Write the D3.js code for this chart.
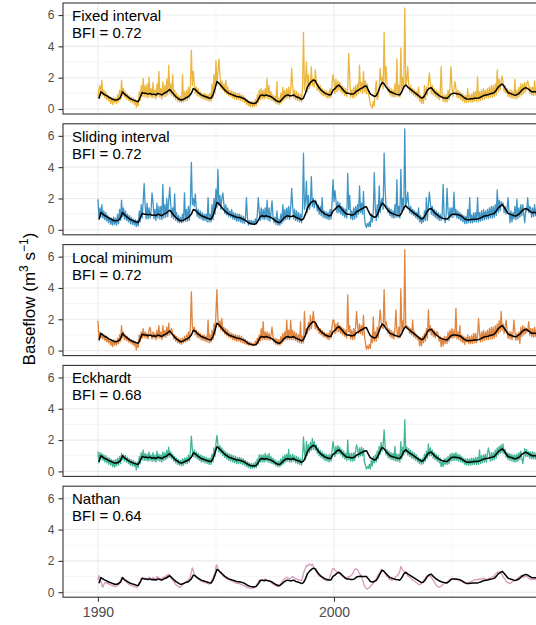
<!DOCTYPE html>
<html><head><meta charset="utf-8">
<script src="https://cdn.jsdelivr.net/npm/d3@7"></script>
<style>body{margin:0;background:#fff}svg{display:block}</style>
</head><body>
<svg id="c" width="536" height="625"></svg>
<script>
const methods = ["Fixed interval","Sliding interval","Local minimum","Eckhardt","Nathan"];
const bfiLabels = ["BFI = 0.72","BFI = 0.72","BFI = 0.72","BFI = 0.68","BFI = 0.64"];
const colors = ["#E69F00","#0072B2","#D55E00","#009E73","#CC79A7"];
const yTicks = [0,2,4,6];
const yMinor = [1,3,5];
const xTicks = [1990,2000];
const xGridMajor = [1990,2000,2010];
const xMinor = [1985,1995,2005];
const startYear = 1990;
const stepsPerYear = 24;   // coloured series: half-monthly values
const blackPerYear = 12;   // black series: monthly values

const fixedInterval = [
0.7,1.3,1.5,0.9,1.85,0.85,1.2,0.7,1.1,0.6,0.9,0.5,0.8,0.35,0.7,0.3,0.75,0.4,0.7,0.35,0.9,0.45,1.2,0.6,
1.85,0.9,1.3,0.75,1.1,0.65,0.95,0.55,0.85,0.45,0.75,0.4,0.7,0.3,0.6,0.1,0.55,0.2,1.1,0.55,1.5,0.8,1.95,0.8,
1.5,0.75,1.6,0.7,2.05,0.8,1.3,0.7,1.7,0.75,1.2,0.65,1.6,0.8,2.4,0.75,1.3,0.65,1.75,0.8,1.5,0.8,1.9,0.9,
2.8,1.0,1.6,0.85,2.2,0.75,1.2,0.6,1.0,0.5,0.85,0.45,0.8,0.4,2.2,0.45,1.1,0.5,1.2,0.55,1.4,0.65,1.6,3.75,
1.5,2.4,1.6,1.0,1.4,0.85,1.3,0.8,1.1,0.7,1.0,0.65,1.0,0.6,0.95,0.55,0.9,0.5,1.0,0.5,1.6,0.7,2.2,1.0,
3.1,1.5,2.4,3.2,2.2,1.3,1.8,1.2,1.6,1.05,1.85,0.95,1.4,0.85,1.2,0.8,1.15,0.7,1.1,0.65,1.05,0.6,1.0,0.6,
1.0,0.55,0.9,0.5,0.85,0.4,0.7,0.3,0.6,0.2,0.5,0.15,0.5,0.12,0.45,0.15,0.6,0.2,0.9,0.4,1.2,0.6,1.3,0.65,
1.2,0.65,1.3,0.7,1.95,0.65,1.5,0.6,1.1,0.55,0.9,0.45,0.8,0.35,1.75,0.3,0.7,0.3,1.0,0.4,1.4,0.55,1.2,0.65,
1.3,0.7,1.4,0.65,1.3,2.6,1.4,0.7,1.2,0.6,1.1,0.55,1.0,0.5,0.9,0.45,1.3,4.9,1.2,1.8,3.0,1.1,2.2,1.3,
1.6,2.7,1.5,1.9,1.4,2.5,1.8,1.2,1.6,1.1,1.5,0.95,1.3,0.85,1.2,0.8,1.15,0.7,1.1,0.7,1.3,0.75,1.6,2.2,
1.75,1.0,1.9,1.1,1.8,1.2,1.7,1.1,1.5,1.0,1.4,0.85,1.3,0.8,1.3,3.55,2.1,0.75,1.2,0.7,1.4,0.75,1.5,0.85,
1.6,1.0,2.8,1.1,1.7,1.0,2.4,1.1,1.8,1.0,1.6,0.9,0.7,0.3,0.2,0.05,0.5,0.2,1.2,1.8,0.6,0.8,1.4,2.6,
1.8,2.0,1.3,4.9,1.6,2.7,1.5,1.1,1.4,0.9,1.3,0.8,1.2,0.75,1.6,0.8,3.2,0.8,1.5,0.75,3.9,1.2,2.0,1.3,
6.45,1.5,1.8,2.7,1.6,1.1,1.5,1.0,1.3,0.9,1.2,0.8,1.1,0.7,1.4,0.5,0.9,0.35,0.8,0.35,1.5,0.6,1.4,0.9,
1.6,2.3,1.7,1.0,1.5,0.9,1.3,0.8,1.2,0.7,1.1,0.6,1.0,2.7,0.9,0.5,0.9,0.45,0.9,0.45,1.2,0.6,1.4,2.7,
1.4,0.8,1.3,1.75,1.3,0.75,1.2,0.7,1.1,0.6,1.0,0.5,0.9,0.4,0.85,0.4,1.3,0.45,0.9,0.45,0.95,0.45,1.1,0.5,
1.1,0.5,2.05,0.5,1.1,0.55,1.2,0.6,1.3,0.65,1.2,0.7,1.3,0.7,1.4,0.75,1.5,0.75,1.5,0.8,1.6,0.9,2.5,1.1,
1.9,1.2,1.8,2.1,1.7,1.1,1.5,1.0,1.3,0.8,1.2,0.75,1.2,0.7,1.1,0.7,1.9,0.65,1.2,0.7,1.4,0.8,1.6,0.9,
1.6,1.0,1.7,1.1,1.6,1.8,1.5,1.0,1.4,0.9,1.4,0.85,1.8,0.9,1.4];

const slidingInterval = [
1.95,0.8,1.4,0.8,1.6,0.75,1.2,0.65,1.1,0.55,0.9,0.45,0.8,0.35,0.75,0.3,0.8,0.35,0.75,0.3,1.0,0.4,1.3,0.6,
1.9,0.85,1.4,0.7,1.2,0.6,1.0,0.5,0.9,0.4,0.8,0.35,0.7,0.3,0.65,0.2,0.6,0.25,1.2,0.5,1.6,0.75,1.85,2.95,
1.6,0.7,1.7,0.7,1.4,0.75,1.2,2.35,1.8,0.7,1.3,0.6,1.7,0.75,1.5,0.7,1.5,0.65,2.9,0.75,1.6,0.8,2.0,0.85,
1.9,2.7,1.6,0.8,1.4,0.7,2.3,0.6,1.1,0.5,0.9,0.45,0.8,0.45,1.0,0.5,2.35,0.55,1.3,0.55,1.5,0.6,1.7,4.3,
1.6,2.0,1.5,2.3,1.4,0.85,1.3,0.75,1.2,0.7,1.1,0.6,1.0,0.6,1.0,0.5,2.05,0.5,1.0,0.5,1.6,0.65,2.0,1.0,
2.6,1.4,3.85,1.6,2.2,1.3,2.0,2.35,1.7,1.05,1.6,0.95,1.4,0.85,1.2,0.8,1.3,0.7,1.1,0.65,1.05,0.55,1.0,0.55,
1.0,0.5,0.9,0.45,0.85,0.4,0.75,2.05,0.8,0.3,0.6,0.35,0.6,0.35,0.55,0.35,0.7,0.4,0.9,2.05,1.2,0.6,1.4,0.7,
1.3,0.65,1.4,0.7,1.9,0.6,1.4,0.55,1.1,1.85,0.9,0.45,0.8,0.35,1.2,0.3,0.7,0.3,1.0,0.4,1.6,0.55,1.3,0.65,
1.4,0.7,1.5,0.65,1.4,2.65,1.5,0.7,1.3,0.6,1.2,0.55,1.1,0.5,1.0,0.45,1.3,4.9,1.3,1.8,3.1,1.1,2.2,1.3,
1.6,3.4,1.5,2.0,1.4,1.9,1.8,1.2,1.6,1.0,1.5,0.9,2.05,0.8,1.2,0.75,1.15,0.7,1.1,0.65,1.3,0.7,1.6,3.2,
1.8,2.5,1.9,1.1,1.8,1.1,1.7,1.0,1.5,0.9,1.4,0.8,1.3,0.75,3.6,1.3,2.2,0.7,1.2,0.65,1.4,0.7,1.5,0.8,
1.6,1.0,2.8,1.1,1.7,1.0,2.45,0.8,0.3,0.15,0.4,0.2,0.5,0.2,1.0,0.5,1.2,3.65,1.4,0.6,1.6,0.8,2.8,1.1,
1.8,2.0,1.3,4.9,2.6,1.4,1.5,1.1,1.4,0.9,1.3,0.8,1.2,0.75,1.6,0.8,3.2,0.8,1.5,0.75,3.85,1.2,2.0,1.3,
6.45,1.5,1.8,2.4,1.6,1.1,1.5,1.0,1.3,0.9,1.2,0.8,1.1,0.7,1.4,0.5,0.9,0.4,0.8,0.5,1.2,0.6,2.05,0.6,
1.6,2.4,1.7,1.0,1.5,0.9,1.3,0.8,1.2,0.7,1.1,0.6,1.0,0.6,0.9,2.9,0.9,0.45,0.9,2.65,1.2,0.6,1.4,0.8,
1.4,0.8,2.4,0.9,1.3,0.75,1.2,0.7,1.1,0.6,1.0,0.5,0.9,0.4,0.85,0.4,1.3,0.45,2.05,0.45,0.95,0.45,1.1,0.5,
1.1,0.5,2.05,0.5,1.1,0.55,1.2,0.6,1.3,0.65,1.2,0.7,1.3,0.7,1.4,0.75,1.5,0.75,1.5,0.8,1.6,0.9,2.55,1.1,
1.9,1.2,1.8,1.6,1.7,1.1,1.5,1.0,1.3,2.05,1.2,0.45,1.2,0.5,1.1,0.7,1.5,0.65,1.95,0.7,1.4,0.8,1.6,0.9,
1.6,1.0,0.45,1.3,1.2,2.05,1.1,1.5,1.4,0.8,1.4,0.85,1.6,0.9,1.4];

const localMinimum = [
1.9,0.8,1.2,0.8,1.1,0.75,1.0,0.65,0.95,0.55,0.8,0.5,0.7,0.35,0.6,0.25,0.7,0.35,0.65,0.35,0.8,0.45,1.0,0.6,
1.6,0.85,1.2,0.7,1.0,0.65,0.9,0.55,0.8,0.5,0.7,0.4,0.65,0.3,0.55,0.05,0.5,0.2,1.0,0.55,1.2,0.8,1.4,0.85,
1.2,0.8,1.1,0.75,1.3,1.5,1.1,0.75,1.2,0.8,1.1,0.7,1.3,0.8,1.6,0.8,1.2,0.7,1.6,0.85,1.3,0.85,1.5,0.95,
1.75,1.0,1.3,1.4,1.1,0.75,1.0,0.6,0.9,0.5,0.8,0.45,0.75,0.4,0.8,0.5,0.9,0.55,1.0,0.6,1.2,0.65,1.4,3.75,
1.6,1.2,1.5,1.0,1.3,0.85,1.2,0.8,1.1,0.7,1.0,0.65,1.0,0.6,0.9,0.55,1.95,0.5,1.0,0.55,1.3,0.7,1.7,1.0,
2.4,3.9,2.0,1.5,1.9,1.3,2.05,1.2,1.5,1.05,1.4,0.95,1.3,0.85,1.15,0.8,1.1,0.7,1.05,0.65,1.0,0.6,0.95,0.6,
0.95,0.55,0.9,0.5,0.8,0.45,0.7,0.4,0.6,0.35,0.55,0.35,0.5,0.3,0.45,0.35,0.6,0.35,0.8,0.45,1.0,0.6,1.4,0.7,
1.85,0.7,1.2,0.7,1.2,0.7,1.1,0.65,1.0,1.5,0.9,0.5,0.8,0.4,0.75,0.35,0.7,0.35,0.9,0.45,1.1,0.6,1.2,0.7,
1.95,0.7,1.3,0.7,1.95,0.7,1.3,0.7,1.2,0.65,1.1,0.55,1.0,0.5,1.85,0.45,0.9,0.5,2.5,0.9,1.4,1.1,1.8,1.3,
2.25,1.4,1.9,2.5,1.8,1.4,1.7,1.3,1.5,1.1,1.4,1.0,1.3,0.9,1.2,0.85,1.1,0.75,1.1,0.7,1.3,0.8,1.5,1.95,
1.95,1.1,1.7,1.2,1.8,1.2,1.6,1.1,1.5,1.0,1.4,0.9,1.3,0.8,3.55,1.2,1.6,0.75,1.3,0.7,1.4,0.75,1.5,2.5,
1.6,1.1,1.7,1.1,1.6,1.0,2.25,0.9,0.5,0.1,0.3,0.1,0.4,0.15,0.9,0.5,2.15,0.6,1.2,0.6,1.5,0.8,1.8,2.6,
1.8,1.5,1.4,3.9,1.6,1.85,1.5,1.1,1.4,0.9,1.3,0.8,1.2,0.75,1.4,2.6,1.3,0.8,1.5,0.8,3.95,1.2,1.9,1.3,
6.45,1.5,1.6,1.5,1.5,1.1,1.4,1.0,1.95,0.9,1.2,0.8,1.0,0.7,0.9,0.3,0.8,0.3,0.9,0.5,1.1,0.6,1.4,0.8,
2.6,1.2,1.6,1.0,1.4,0.9,1.3,0.8,1.2,1.2,1.0,0.6,0.9,0.25,0.8,0.3,0.9,0.45,0.9,0.45,1.2,0.6,1.3,0.8,
1.4,0.8,1.3,0.85,2.7,0.75,1.2,0.7,1.6,0.6,1.0,0.5,0.9,0.4,0.85,0.55,1.0,0.45,0.9,0.45,0.95,0.45,1.1,0.5,
1.1,0.5,1.0,2.05,1.1,0.55,1.2,0.6,1.3,0.65,1.2,0.7,1.3,0.7,1.4,0.75,1.5,0.75,1.5,0.8,1.6,0.9,1.7,1.1,
1.9,1.2,2.5,1.3,1.7,1.1,1.5,1.95,1.3,0.8,1.2,0.75,1.2,0.7,1.1,1.95,1.2,0.65,1.1,0.7,1.2,0.45,1.5,0.9,
1.6,1.0,1.5,1.1,1.4,1.2,1.85,1.0,1.4,0.9,1.4,0.85,1.5,0.9,1.4];

const eckhardt = [
1.27,0.55,1.2,0.8,1.15,0.7,1.05,0.6,1.0,0.55,0.9,0.45,0.85,0.4,0.75,0.3,0.7,0.27,0.75,0.35,0.85,0.4,0.95,0.5,
1.15,0.75,1.05,0.65,1.0,0.6,0.9,0.5,0.8,0.4,0.75,0.35,0.7,0.3,0.6,0.1,0.6,0.25,0.95,0.5,1.2,0.75,1.37,0.7,
1.15,0.7,1.1,0.65,1.25,0.7,1.05,0.65,1.2,0.65,1.05,0.6,1.3,0.7,1.1,0.65,1.05,0.6,1.25,0.7,1.2,0.75,1.35,0.85,
1.55,0.9,1.25,0.8,1.1,0.65,0.95,0.55,0.85,0.45,0.75,0.4,0.7,0.35,0.8,0.4,0.85,0.5,0.9,0.5,1.05,0.6,1.2,2.25,
1.4,0.95,1.37,0.9,1.25,0.8,1.15,0.7,1.05,0.6,1.0,0.6,0.95,0.55,0.9,0.5,0.85,0.45,0.85,0.45,1.1,0.6,1.5,0.95,
1.8,2.3,1.75,1.25,1.65,1.15,1.5,1.0,1.35,0.9,1.25,0.8,1.15,0.7,1.1,0.65,1.05,0.6,1.0,0.55,0.95,0.5,0.9,0.5,
0.9,0.5,0.85,0.45,0.8,0.4,0.7,0.3,0.6,0.25,0.55,0.2,0.5,0.2,0.5,0.22,0.6,0.25,0.8,0.4,1.05,0.6,1.05,0.6,
1.05,0.6,1.15,0.65,1.05,0.6,1.15,0.55,0.95,0.5,0.85,0.45,0.75,0.35,0.65,0.3,0.65,0.3,0.8,0.4,0.95,0.5,1.05,0.6,
1.1,0.65,1.4,0.6,1.05,0.6,1.1,0.65,1.0,0.55,0.95,0.5,0.9,0.45,0.8,0.4,0.9,2.2,1.2,0.75,1.9,1.05,1.7,1.2,
1.85,1.35,2.1,1.4,1.9,1.35,1.7,1.15,1.5,1.0,1.35,0.9,1.25,0.8,1.15,0.7,1.1,0.65,1.05,0.6,1.1,0.65,1.3,1.9,
1.5,0.95,1.6,1.1,1.65,1.15,1.55,1.05,1.4,0.9,1.3,0.8,1.15,0.7,2.0,0.75,1.15,0.65,1.15,0.65,1.2,0.7,1.35,1.7,
1.4,0.9,1.5,1.0,1.55,1.0,1.45,0.6,0.4,0.15,0.3,0.2,0.45,0.15,0.7,0.35,0.95,0.55,1.05,0.6,1.3,0.8,1.6,1.1,
1.85,1.3,1.7,2.65,1.6,1.05,1.4,0.9,1.3,0.8,1.2,0.75,1.15,0.7,1.6,0.65,1.1,0.65,1.1,0.6,1.9,0.8,1.55,1.05,
3.3,1.2,1.55,1.05,1.45,0.95,1.35,0.85,1.25,0.8,1.15,0.7,1.05,0.6,0.9,0.5,0.8,0.45,0.85,0.5,1.1,0.65,1.3,0.85,
1.75,1.0,1.5,1.0,1.35,0.85,1.2,0.75,1.1,0.65,1.0,0.55,0.85,0.3,0.6,0.3,0.8,0.45,0.85,0.45,0.95,0.5,1.1,0.65,
1.15,0.7,1.15,0.7,1.2,0.7,1.1,0.65,1.05,0.6,0.95,0.55,0.85,0.45,0.8,0.4,0.8,0.4,0.8,0.4,0.85,0.45,0.85,0.45,
0.9,0.45,0.9,0.45,1.37,0.5,1.0,0.55,1.05,0.6,1.1,0.6,1.1,1.5,1.15,0.65,1.2,0.7,1.2,0.75,1.35,0.85,1.5,1.05,
1.6,1.15,1.7,1.2,1.75,1.1,1.4,0.9,1.2,0.75,1.15,0.7,1.1,0.65,1.05,0.6,1.05,0.6,1.1,0.65,1.2,0.75,1.3,0.85,
0.5,0.95,1.45,0.95,1.4,0.95,1.27,0.85,1.25,0.8,1.25,0.8,1.2,0.8,1.15];

const nathan = [
0.75,1.05,0.9,0.7,0.45,0.32,0.5,0.6,0.65,0.55,0.6,0.5,0.55,0.45,0.45,0.4,0.4,0.35,0.4,0.38,0.5,0.45,0.7,0.6,
0.95,0.85,0.8,0.75,0.7,0.62,0.6,0.52,0.5,0.45,0.45,0.4,0.4,0.35,0.35,0.3,0.35,0.4,0.65,0.6,0.9,0.85,0.9,0.85,
0.9,0.85,0.85,0.8,0.95,0.9,0.85,0.8,0.95,0.88,0.85,0.8,1.0,0.95,0.9,0.85,0.85,0.8,0.95,0.9,1.0,0.95,1.1,1.05,
1.15,1.05,0.95,0.85,0.8,0.7,0.6,0.5,0.45,0.4,0.35,0.3,0.35,0.4,0.5,0.55,0.6,0.65,0.7,0.65,0.8,0.85,1.0,1.3,
1.55,1.35,1.1,1.0,0.95,0.9,0.85,0.8,0.75,0.7,0.7,0.65,0.65,0.6,0.6,0.55,0.55,0.5,0.55,0.6,0.8,0.85,1.1,1.2,
1.65,1.75,1.5,1.4,1.3,1.2,1.15,1.05,1.0,0.95,0.9,0.85,0.85,0.8,0.8,0.75,0.72,0.68,0.68,0.62,0.6,0.56,0.58,0.55,
0.55,0.5,0.5,0.45,0.45,0.4,0.38,0.32,0.3,0.28,0.28,0.25,0.25,0.26,0.27,0.3,0.35,0.45,0.55,0.65,0.75,0.8,0.8,0.78,
0.75,0.8,0.85,0.8,0.75,0.7,0.72,0.68,0.62,0.58,0.52,0.48,0.45,0.4,0.38,0.35,0.36,0.4,0.55,0.6,0.75,0.8,0.85,0.9,
0.95,0.9,0.9,0.85,0.88,0.95,1.0,0.95,0.9,0.85,0.85,0.8,0.8,0.75,0.75,0.72,0.9,1.2,1.4,1.55,1.7,1.65,1.75,1.8,
1.75,1.7,1.8,1.65,1.55,1.45,1.3,1.2,1.1,1.05,1.0,0.95,0.9,0.85,0.8,0.78,0.75,0.72,0.75,0.85,1.0,1.2,1.4,1.5,
1.5,1.4,1.35,1.3,1.3,1.25,1.2,1.1,1.05,1.0,0.95,0.9,0.9,0.88,0.95,1.0,1.0,1.05,1.1,1.2,1.3,1.45,1.5,1.45,
1.45,1.3,1.2,1.1,1.0,0.8,0.6,0.4,0.3,0.22,0.2,0.25,0.3,0.35,0.45,0.5,0.6,0.7,0.8,0.85,1.0,1.1,1.2,1.3,
1.45,1.4,1.35,1.3,1.2,1.1,1.0,0.95,0.85,0.8,0.8,0.75,0.8,0.85,0.9,1.0,1.05,1.1,1.2,1.35,1.65,1.5,1.4,1.35,
1.3,1.25,1.15,1.05,1.0,0.95,0.9,0.85,0.8,0.75,0.7,0.65,0.6,0.55,0.5,0.48,0.5,0.55,0.65,0.7,0.8,0.9,1.0,1.05,
1.1,1.05,1.0,0.95,0.85,0.75,0.65,0.55,0.45,0.38,0.34,0.32,0.35,0.4,0.45,0.5,0.55,0.6,0.6,0.65,0.7,0.75,0.8,0.85,
0.9,0.85,0.85,0.8,0.85,0.8,0.8,0.78,0.75,0.7,0.68,0.65,0.6,0.58,0.55,0.58,0.6,0.62,0.65,0.68,0.7,0.72,0.75,0.78,
0.8,0.78,0.82,0.8,0.85,0.82,0.88,0.85,0.9,0.85,0.85,0.8,0.82,0.85,0.9,0.88,0.9,0.95,1.0,1.05,1.15,1.2,1.25,1.3,
1.3,1.25,1.2,1.1,1.0,0.9,0.8,0.7,0.65,0.6,0.58,0.55,0.6,0.65,0.7,0.72,0.75,0.8,0.85,0.9,0.95,1.0,1.05,1.1,
1.0,0.95,1.0,1.05,1.0,0.95,0.9,0.85,0.85,0.8,0.8,0.82,0.85,0.8,0.8];

const blackMain = [
.65,1.1,1.0,.9,.85,.75,.7,.62,.58,.57,.62,.75,
1.1,.95,.85,.75,.65,.6,.55,.5,.47,.75,1.05,1.0,
1.0,.95,1.0,.92,.95,.9,1.0,.95,.9,1.0,1.05,1.15,
1.25,1.1,.95,.8,.7,.6,.57,.62,.7,.75,.85,1.0,
1.3,1.25,1.1,1.0,.9,.85,.8,.75,.7,.68,.9,1.3,
1.75,1.65,1.5,1.35,1.2,1.1,1.0,.95,.9,.85,.8,.78,
.75,.7,.65,.55,.45,.4,.37,.35,.4,.6,.85,.9,
.85,.9,.85,.82,.75,.65,.55,.48,.47,.6,.75,.85,
.9,.85,.85,.9,.8,.75,.7,.62,.7,1.0,1.4,1.6,
1.75,1.85,1.8,1.55,1.35,1.2,1.1,1.0,.95,.9,.92,1.2,
1.3,1.45,1.53,1.4,1.25,1.1,1.0,1.0,.95,.95,1.0,1.15,
1.2,1.3,1.35,1.45,1.47,1.2,.95,.88,.8,.85,1.1,1.45,
1.7,1.6,1.4,1.25,1.1,1.05,1.0,.95,.92,.9,1.1,1.4,
1.53,1.4,1.3,1.2,1.1,1.0,.9,.8,.7,.75,.95,1.2,
1.33,1.36,1.2,1.05,.95,.85,.78,.72,.7,.68,.8,.95,
1.0,1.0,.98,.95,.9,.8,.7,.64,.63,.65,.66,.68,
.68,.7,.75,.82,.88,.9,.92,.98,1.0,1.05,1.2,1.4,
1.5,1.6,1.45,1.25,1.05,1.0,.95,.9,.88,.95,1.05,1.2,
1.3,1.36,1.3,1.2,1.1,1.1,1.1,1.05];

const blackEckhardt = [
.60,1.00,.91,.82,.78,.69,.65,.58,.54,.53,.58,.69,
1.00,.87,.78,.69,.60,.56,.51,.47,.44,.69,.95,.91,
.91,.87,.91,.84,.87,.82,.91,.87,.82,.91,.95,1.04,
1.13,1.00,.87,.73,.65,.56,.53,.58,.65,.69,.78,.91,
1.17,1.13,1.00,.91,.82,.78,.73,.69,.65,.63,.82,1.17,
1.57,1.48,1.35,1.22,1.09,1.00,.91,.87,.82,.78,.73,.72,
.69,.65,.60,.51,.43,.38,.36,.34,.38,.56,.78,.82,
.78,.82,.78,.75,.69,.60,.51,.45,.44,.56,.69,.78,
.82,.78,.78,.82,.73,.69,.65,.58,.65,.91,1.26,1.44,
1.57,1.66,1.61,1.39,1.22,1.09,1.00,.91,.87,.82,.84,1.09,
1.17,1.31,1.38,1.26,1.13,1.00,.91,.91,.87,.87,.91,1.04,
1.09,1.17,1.22,1.31,1.32,1.09,.87,.80,.73,.78,1.00,1.31,
1.53,1.44,1.26,1.13,1.00,.95,.91,.87,.84,.82,1.00,1.26,
1.38,1.26,1.17,1.09,1.00,.91,.82,.73,.65,.69,.87,1.09,
1.20,1.23,1.09,.95,.87,.78,.72,.66,.65,.63,.73,.87,
.91,.91,.89,.87,.82,.73,.65,.59,.58,.60,.61,.63,
.63,.65,.69,.75,.80,.82,.84,.89,.91,.95,1.09,1.26,
1.35,1.44,1.31,1.13,.95,.91,.87,.82,.80,.87,.95,1.09,
1.17,1.23,1.17,1.09,1.00,1.00,1.00,.95];

const blackNathan = [
.57,.93,.85,.77,.73,.65,.61,.55,.51,.51,.55,.65,
.93,.81,.73,.65,.57,.53,.49,.45,.43,.65,.89,.85,
.85,.81,.85,.79,.81,.77,.85,.81,.77,.85,.89,.97,
1.05,.93,.81,.69,.61,.53,.51,.55,.61,.65,.73,.85,
1.09,1.05,.93,.85,.77,.73,.69,.65,.61,.59,.77,1.09,
1.45,1.37,1.25,1.13,1.01,.93,.85,.81,.77,.73,.69,.67,
.65,.61,.57,.49,.41,.37,.35,.33,.37,.53,.73,.77,
.73,.77,.73,.71,.65,.57,.49,.43,.43,.53,.65,.73,
.77,.73,.73,.77,.69,.65,.61,.55,.61,.85,1.17,1.33,
1.45,1.53,1.49,1.29,1.13,1.01,.93,.85,.81,.77,.79,1.01,
1.09,1.21,1.27,1.17,1.05,.93,.85,.85,.81,.81,.85,.97,
1.0,1.02,1.0,1.0,1.0,.85,.68,.65,.68,.75,.95,1.2,
1.41,1.33,1.17,1.05,.93,.89,.85,.81,.79,.77,.93,1.17,
1.27,1.17,1.09,1.01,.93,.85,.77,.69,.61,.65,.81,1.01,
1.11,1.14,1.01,.89,.81,.73,.67,.63,.61,.59,.69,.81,
.85,.85,.83,.81,.77,.69,.61,.56,.55,.57,.58,.59,
.59,.61,.65,.71,.75,.77,.79,.83,.85,.89,1.01,1.17,
1.25,1.33,1.21,1.05,.89,.85,.81,.77,.75,.81,.89,1.01,
1.09,1.14,1.09,1.01,.93,.93,.93,.89];

const seriesList = [fixedInterval, slidingInterval, localMinimum, eckhardt, nathan];
const blackList = [blackMain, blackMain, blackMain, blackEckhardt, blackNathan];

const FONT = "'Liberation Sans', Arial, Helvetica, sans-serif";
const svg = d3.select("#c").style("font-family", FONT);
const left = 63, right = 832;
const x = d3.scaleLinear().domain([1988.52, 2021.1]).range([left, right]);
const panelH = 111, panelStep = 120.8, top0 = 3;
const yDomain = [-0.32, 6.77];

svg.append("rect").attr("width",536).attr("height",625).attr("fill","#fff");

methods.forEach((name, i) => {
  const top = top0 + i * panelStep;
  const y = d3.scaleLinear().domain(yDomain).range([top + panelH, top]);
  const g = svg.append("g");
  g.append("rect").attr("x", left).attr("y", top).attr("width", right-left).attr("height", panelH).attr("fill", "#fff");
  g.selectAll(".ymin").data(yMinor).join("line")
    .attr("x1", left).attr("x2", right).attr("y1", d=>y(d)).attr("y2", d=>y(d))
    .attr("stroke", "#f0f0f0").attr("stroke-width", 0.6);
  g.selectAll(".xmin").data(xMinor).join("line")
    .attr("x1", d=>x(d)).attr("x2", d=>x(d)).attr("y1", top).attr("y2", top+panelH)
    .attr("stroke", "#f0f0f0").attr("stroke-width", 0.6);
  g.selectAll(".ymaj").data(yTicks).join("line")
    .attr("x1", left).attr("x2", right).attr("y1", d=>y(d)).attr("y2", d=>y(d))
    .attr("stroke", "#ebebeb").attr("stroke-width", 1.1);
  g.selectAll(".xmaj").data(xGridMajor).join("line")
    .attr("x1", d=>x(d)).attr("x2", d=>x(d)).attr("y1", top).attr("y2", top+panelH)
    .attr("stroke", "#ebebeb").attr("stroke-width", 1.1);

  const vals = seriesList[i];
  const line = d3.line().x((d,k)=>x(startYear + k/stepsPerYear)).y(d=>y(d));
  g.append("path").attr("d", line(vals)).attr("fill","none")
    .attr("stroke", colors[i]).attr("stroke-opacity", 0.75).attr("stroke-width", 1.3)
    .attr("stroke-linejoin","round");

  const bl = blackList[i];
  const bline = d3.line().x((d,k)=>x(startYear + (k+0.5)/blackPerYear)).y(d=>y(d));
  g.append("path").attr("d", bline(bl)).attr("fill","none")
    .attr("stroke", "#000").attr("stroke-width", 1.5).attr("stroke-linejoin","round");

  g.append("rect").attr("x", left).attr("y", top).attr("width", right-left).attr("height", panelH)
    .attr("fill","none").attr("stroke","#333").attr("stroke-width",1.1);

  const ax = g.append("g").attr("transform", `translate(${left},0)`)
    .call(d3.axisLeft(y).tickValues(yTicks).tickSize(4.5).tickPadding(4).tickFormat(d3.format("d")));
  ax.select(".domain").remove();
  ax.selectAll(".tick line").attr("stroke","#333").attr("stroke-width",1.1);
  ax.selectAll(".tick text").attr("fill","#4d4d4d").style("font-size","12px").style("font-family",FONT);

  g.append("text").attr("x", 72).attr("y", top + 18).text(name)
    .style("font-size","15px").attr("fill","#000");
  g.append("text").attr("x", 72).attr("y", top + 35).text(bfiLabels[i])
    .style("font-size","15px").attr("fill","#000");

  if (i === methods.length - 1) {
    const bx = g.append("g").attr("transform", `translate(0,${top+panelH})`)
      .call(d3.axisBottom(x).tickValues(xTicks).tickSize(4.5).tickPadding(5).tickFormat(d3.format("d")));
    bx.select(".domain").remove();
    bx.selectAll(".tick line").attr("stroke","#333").attr("stroke-width",1.1);
    bx.selectAll(".tick text").attr("fill","#4d4d4d").style("font-size","14px").style("font-family",FONT);
  }
});

const yl = svg.append("text").attr("transform","translate(35,299) rotate(-90)")
  .attr("text-anchor","middle").style("font-size","17px").attr("fill","#000");
yl.append("tspan").text("Baseflow (m");
yl.append("tspan").text("3").style("font-size","12px").attr("dy","-7");
yl.append("tspan").text(" s").attr("dy","7");
yl.append("tspan").text("\u22121").style("font-size","12px").attr("dy","-7");
yl.append("tspan").text(")").attr("dy","7");
</script>
</body></html>
